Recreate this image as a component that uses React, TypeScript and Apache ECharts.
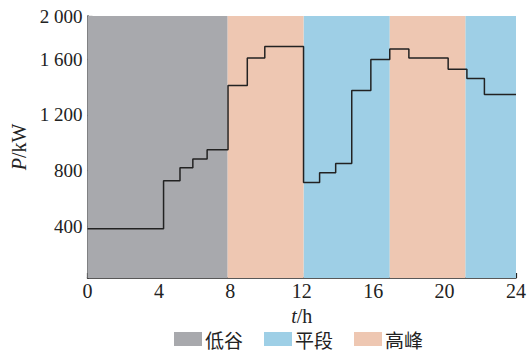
import React, { useEffect, useRef } from "react";
import * as echarts from "echarts";

// Step-load profile: [hour, kW]
const stepHours = [0, 4.26, 5.18, 5.9, 6.7, 7.87, 8.95, 9.93, 12.1, 13.0, 13.9, 14.8, 15.87, 16.93, 18.0, 20.2, 21.25, 22.23, 24];
const stepValues = [383, 727, 822, 883, 950, 1411, 1609, 1692, 716, 785, 852, 1376, 1598, 1674, 1609, 1528, 1462, 1347, 1347];

// Tariff periods
const periodNames = ["低谷", "平段", "高峰"];
const periodColors = ["#A8A9AD", "#9ECFE6", "#EEC7B2"];
// [start, end, periodIndex]
const periodSpans: [number, number, number][] = [
  [0, 7.85, 0],
  [7.85, 12.1, 2],
  [12.1, 16.93, 1],
  [16.93, 21.16, 2],
  [21.16, 24, 1],
];

// y axis ticks
const yTickValues = [400, 800, 1200, 1600, 1910];
const yTickLabels = ["400", "800", "1 200", "1 600", "2 000"];

export default function App() {
  const ref = useRef<HTMLDivElement>(null);
  useEffect(() => {
    if (!ref.current) return;
    const chart = echarts.init(ref.current, undefined, { renderer: "svg" });
    const serif = "Liberation Serif";
    const bandSeries = periodNames.map((name, pi) => ({
      name,
      type: "bar",
      data: [],
      itemStyle: { color: periodColors[pi] },
      markArea: {
        silent: true,
        itemStyle: { color: periodColors[pi], opacity: 1 },
        data: periodSpans
          .filter((s) => s[2] === pi)
          .map((s) => [{ xAxis: s[0] }, { xAxis: s[1] }]),
      },
    }));
    chart.setOption({
      animation: false,
      grid: { left: 87.5, right: 10.3, top: 16, bottom: 75, containLabel: false },
      legend: {
        data: periodNames.map((n) => ({ name: n })),
        left: 174,
        top: 329.5,
        padding: 0,
        icon: "rect",
        itemWidth: 28,
        itemHeight: 14,
        itemGap: 17,
        textStyle: { fontFamily: "Noto Sans CJK SC", fontSize: 19, lineHeight: 19, color: "#222", padding: [0, 4, 0, -2] },
      },
      xAxis: {
        type: "value",
        min: 0,
        max: 24,
        interval: 4,
        name: "{i|t}/h",
        nameLocation: "middle",
        nameGap: 28,
        nameTextStyle: {
          fontFamily: serif,
          fontSize: 20,
          color: "#222",
          rich: { i: { fontStyle: "italic", fontFamily: serif, fontSize: 20, color: "#222" } },
        },
        axisLine: { show: true, onZero: false, lineStyle: { color: "#222", width: 1.5 } },
        axisTick: { show: true, inside: true, length: 5, lineStyle: { color: "#222", width: 1.2 } },
        axisLabel: { fontFamily: serif, fontSize: 20, color: "#222", margin: 3 },
        splitLine: { show: false },
      },
      yAxis: {
        type: "value",
        min: 30,
        max: 1910,
        name: "{i|P}/kW",
        nameLocation: "middle",
        nameGap: 56,
        nameRotate: 90,
        nameTextStyle: {
          fontFamily: serif,
          fontSize: 20,
          color: "#222",
          rich: { i: { fontStyle: "italic", fontFamily: serif, fontSize: 20, color: "#222" } },
        },
        axisLine: { show: true, lineStyle: { color: "#222", width: 1.5 } },
        axisTick: { show: true, inside: true, length: 5, customValues: yTickValues, lineStyle: { color: "#222", width: 1.2 } },
        axisLabel: {
          fontFamily: serif,
          fontSize: 19,
          color: "#222",
          margin: 5,
          customValues: yTickValues,
          formatter: (v: number) => {
            const i = yTickValues.indexOf(v);
            return i >= 0 ? yTickLabels[i] : "";
          },
        },
        splitLine: { show: false },
      },
      series: [
        ...bandSeries,
        {
          name: "负荷",
          type: "line",
          step: "end",
          data: stepHours.map((h, i) => [h, stepValues[i]]),
          symbol: "none",
          lineStyle: { color: "#222", width: 1.5 },
          z: 5,
        },
      ],
    });
    return () => chart.dispose();
  }, []);
  return <div ref={ref} style={{ width: 529, height: 353, position: "absolute", left: 0, top: 0 }} />;
}
